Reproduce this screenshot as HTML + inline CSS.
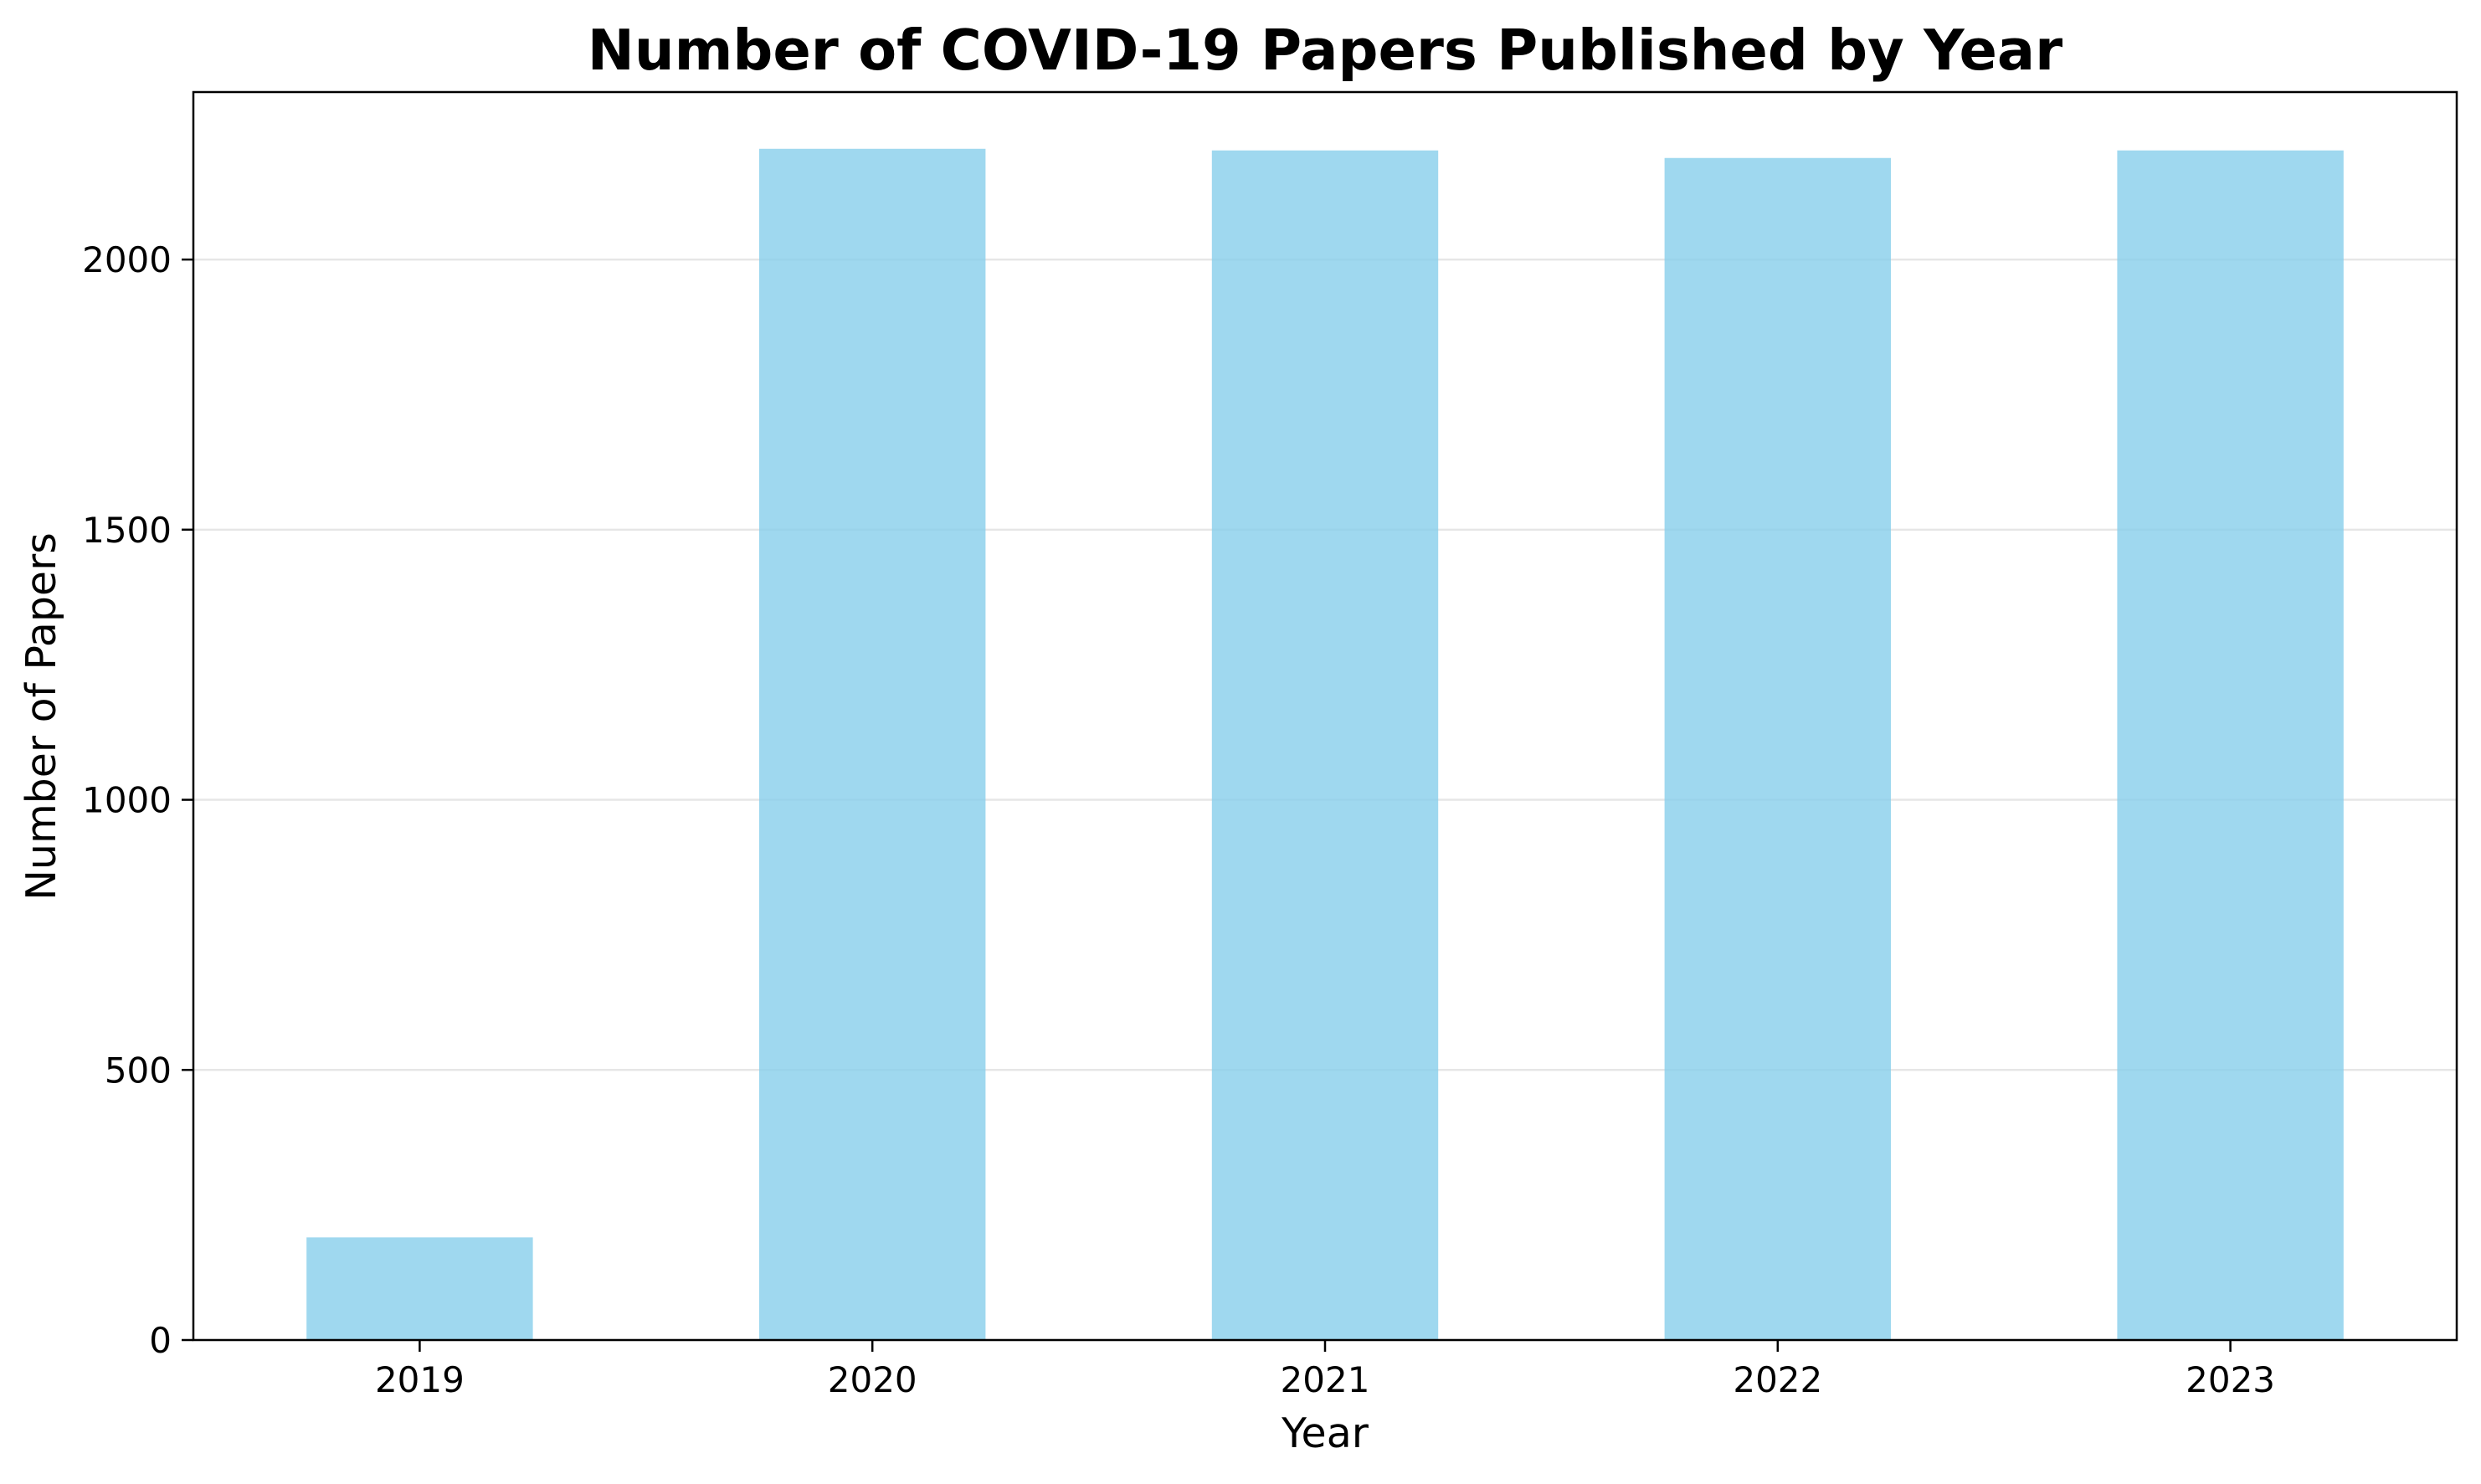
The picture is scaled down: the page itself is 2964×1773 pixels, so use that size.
<!DOCTYPE html>
<html><head><meta charset="utf-8"><style>
html,body{margin:0;padding:0;background:#fff;}
svg text{font-family:"DejaVu Sans","Liberation Sans",sans-serif;}
</style></head><body>
<svg id="chart" width="2964" height="1768" xmlns="http://www.w3.org/2000/svg">
<rect width="2964" height="1768" fill="#fff"/>
<text x="1583" y="83" font-size="67" font-weight="bold" text-anchor="middle">Number of COVID-19 Papers Published by Year</text>
<g id="grid"></g><g id="bars"></g><g id="axes"></g>
<text x="1583" y="1729" font-size="49" text-anchor="middle">Year</text>
<text transform="translate(66,856) rotate(-90)" font-size="49" text-anchor="middle">Number of Papers</text>
</svg>
<script>
const categories = ["2019","2020","2021","2022","2023"];
const values = [190, 2205, 2202, 2188, 2202];
const yTicks = [0, 500, 1000, 1500, 2000];
const NS="http://www.w3.org/2000/svg";
const L=231,R=2935,T=110,B=1601,YMAX=2310;
const xs=i=>L+(i+0.5)*(R-L)/categories.length;
const bw=(R-L)/categories.length*0.5;
const ys=v=>B-v/YMAX*(B-T);
function mk(tag,attrs,parent){const e=document.createElementNS(NS,tag);for(const k in attrs)e.setAttribute(k,attrs[k]);parent.appendChild(e);return e;}
const grid=document.getElementById('grid'),bars=document.getElementById('bars'),axes=document.getElementById('axes');
yTicks.forEach(t=>{
  const g=mk('line',{x1:L,x2:R,y1:ys(t),y2:ys(t),stroke:'#e6e6e6','stroke-width':2.5},grid);
  
  
  const tk=mk('line',{x1:L-14,x2:L,y1:ys(t),y2:ys(t),stroke:'#000','stroke-width':2.5},axes);
  
  
  const tl=mk('text',{x:L-26,y:ys(t)+15,'font-size':42,'text-anchor':'end'},axes);
  tl.textContent=t;
  
  
});
categories.forEach((c,i)=>{
  const b=mk('rect',{x:xs(i)-bw/2,y:ys(values[i]),width:bw,height:B-ys(values[i]),fill:'#87ceeb','fill-opacity':0.8},bars);
  
  
  const tk=mk('line',{x1:xs(i),x2:xs(i),y1:B,y2:B+14,stroke:'#000','stroke-width':2.5},axes);
  
  
  const tl=mk('text',{x:xs(i),y:B+62,'font-size':42,'text-anchor':'middle'},axes);
  tl.textContent=c;
  
  
});
const fr=mk('rect',{x:L,y:T,width:R-L,height:B-T,fill:'none',stroke:'#000','stroke-width':2.5},axes);


</script>
</body></html>
